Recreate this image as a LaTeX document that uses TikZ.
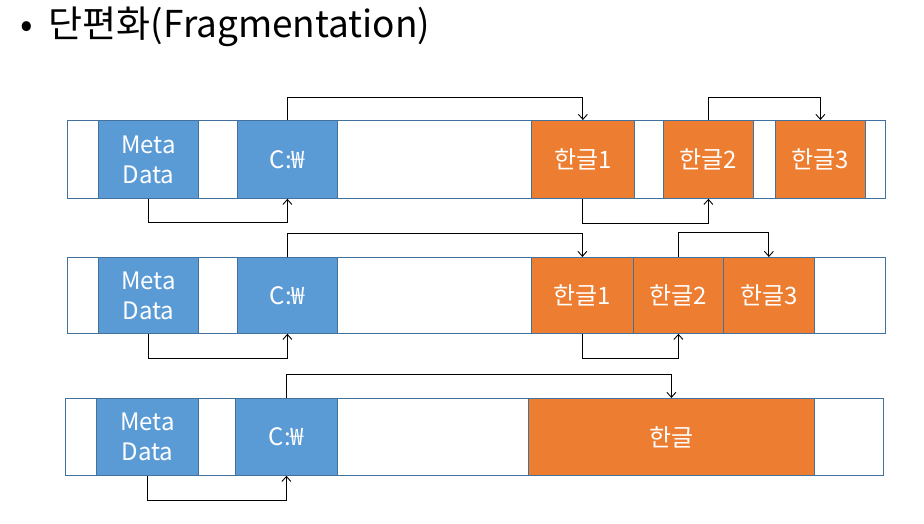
\documentclass[tikz,border=0pt]{standalone}
\usepackage{fontspec}
\setmainfont{Noto Sans CJK KR}
\usetikzlibrary{arrows.meta}
\definecolor{bfill}{HTML}{5B9BD5}
\definecolor{ofill}{HTML}{ED7D31}
\definecolor{edge}{HTML}{41719C}
\tikzset{
  bar/.style={draw=edge, line width=1pt, fill=white, inner sep=0pt, anchor=north west},
  bbox/.style={draw=edge, line width=0.8pt, fill=bfill, text=white, inner sep=0pt, anchor=north west,
    font=\fontsize{24}{30}\selectfont, align=center},
  obox/.style={draw=edge, line width=0.8pt, fill=ofill, text=white, inner sep=0pt, anchor=north west,
    font=\fontsize{24}{30}\selectfont, align=center},
  arr/.style={draw=black, line width=0.9pt, -{Straight Barb[length=5pt,width=9pt]}}
}
\begin{document}
\begin{tikzpicture}[x=1pt,y=-1pt]
\useasboundingbox (0,0) rectangle (924,524);
\node[anchor=west, font=\fontsize{37}{42}\selectfont, inner sep=0pt] (title) at (20,27) {•\hspace{16pt}단편화(Fragmentation)};
% Row 1
\node[bar, minimum width=818pt, minimum height=78pt] (bar1) at (67,120) {};
\node[bbox, minimum width=100pt, minimum height=78pt] (m1) at (98,120) {Meta\\Data};
\node[bbox, minimum width=100pt, minimum height=78pt] (c1) at (237,120) {C:₩};
\node[obox, minimum width=103pt, minimum height=78pt] (h11) at (531,120) {한글1};
\node[obox, minimum width=90pt, minimum height=78pt] (h12) at (663,120) {한글2};
\node[obox, minimum width=90pt, minimum height=78pt] (h13) at (775,120) {한글3};
\draw[arr] (c1.north) -- ++(0,-23) -| (h11.north);
\draw[arr] (m1.south) -- ++(0,24) -| (c1.south);
\draw[arr] (h11.south) -- ++(0,25) -| (h12.south);
\draw[arr] (h12.north) -- ++(0,-23) -| (h13.north);
% Row 2
\node[bar, minimum width=818pt, minimum height=76pt] (bar2) at (67,257) {};
\node[bbox, minimum width=100pt, minimum height=76pt] (m2) at (98,257) {Meta\\Data};
\node[bbox, minimum width=100pt, minimum height=76pt] (c2) at (237,257) {C:₩};
\node[obox, minimum width=102pt, minimum height=76pt] (h21) at (531,257) {한글1};
\node[obox, minimum width=90pt, minimum height=76pt] (h22) at (633,257) {한글2};
\node[obox, minimum width=91pt, minimum height=76pt] (h23) at (723,257) {한글3};
\draw[arr] (c2.north) -- ++(0,-24) -| (h21.north);
\draw[arr] (m2.south) -- ++(0,25) -| (c2.south);
\draw[arr] (h21.south) -- ++(0,25) -| (h22.south);
\draw[arr] (h22.north) -- ++(0,-25) -| (h23.north);
% Row 3
\node[bar, minimum width=818pt, minimum height=77pt] (bar3) at (65,398) {};
\node[bbox, minimum width=102pt, minimum height=77pt] (m3) at (96,398) {Meta\\Data};
\node[bbox, minimum width=102pt, minimum height=77pt] (c3) at (235,398) {C:₩};
\node[obox, minimum width=286pt, minimum height=77pt] (h3) at (528,398) {한글};
\draw[arr] (c3.north) -- ++(0,-24) -| (h3.north);
\draw[arr] (m3.south) -- ++(0,25) -| (c3.south);
\end{tikzpicture}
\end{document}
